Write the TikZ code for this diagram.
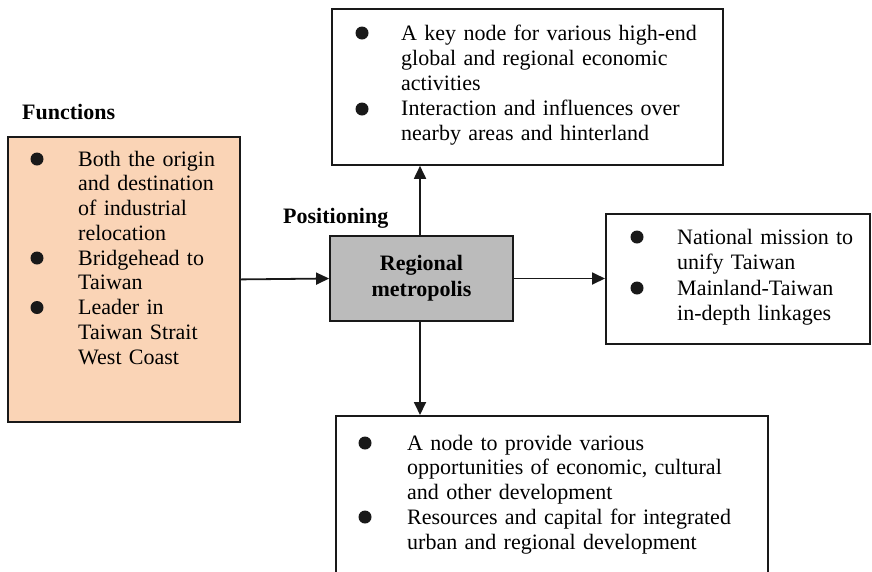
\documentclass[tikz,border=0pt]{standalone}
\usepackage{fontspec}
\setmainfont{Liberation Serif}
\usetikzlibrary{arrows.meta}
\definecolor{peach}{RGB}{250,212,182}
\definecolor{hubgrey}{RGB}{187,187,187}
\definecolor{ink}{RGB}{25,25,25}
\begin{document}
\begin{tikzpicture}[x=1pt,y=-1pt,
  box/.style={draw=ink, line width=1.8pt, inner sep=0pt, anchor=north west},
  itemtext/.style={anchor=base west, inner sep=0pt, text width=#1, align=left,
    font=\fontsize{22}{25}\selectfont},
  dot/.style={circle, fill=ink, inner sep=0pt, minimum size=13pt},
  arr/.style={draw=ink, line width=1.8pt, -{Triangle[length=13pt,width=12pt]}},
  head/.style={font=\fontsize{22}{25}\selectfont\bfseries, inner sep=0pt, anchor=base west}]
\useasboundingbox (0,0) rectangle (872,571);
\clip (0,0) rectangle (872,571);

% Functions panel
\node[head] (funlbl) at (22,119) {Functions};
\node[box, fill=peach, minimum width=232pt, minimum height=285pt] (fun) at (7,136) {};
\node[dot] (fb1) at (37,159) {};
\node[dot] (fb2) at (37,258) {};
\node[dot] (fb3) at (37,307.5) {};
\node[itemtext=160pt, font=\fontsize{22}{24.75}\selectfont] (funtxt) at (78,166)
  {Both the origin\\and destination\\of industrial\\relocation\\Bridgehead to\\Taiwan\\Leader in\\Taiwan Strait\\West Coast};

% central hub
\node[head] (poslbl) at (283,223) {Positioning};
\node[draw=ink, fill=hubgrey, line width=1.8pt, minimum width=183pt, minimum height=85pt,
  inner sep=0pt, align=center, font=\fontsize{22}{26}\selectfont\bfseries] (reg) at (421.5,278.5)
  {Regional\\metropolis};

% upper panel
\node[box, minimum width=391pt, minimum height=156pt] (top) at (331,8) {};
\node[dot] (tb1) at (362,33) {};
\node[dot] (tb2) at (362,109) {};
\node[itemtext=320pt] (toptxt) at (401,40)
  {A key node for various high-end\\global and regional economic\\activities\\Interaction and influences over\\nearby areas and hinterland};

% right panel
\node[box, minimum width=264pt, minimum height=130pt] (rt) at (605,213) {};
\node[dot] (rb1) at (637,237) {};
\node[dot] (rb2) at (637,288) {};
\node[itemtext=190pt, font=\fontsize{22}{25.5}\selectfont] (rttxt) at (677,244)
  {National mission to\\unify Taiwan\\Mainland-Taiwan\\in-depth linkages};

% lower panel
\node[box, minimum width=432pt, minimum height=175pt] (bot) at (335,415) {};
\node[dot] (bb1) at (365,443) {};
\node[dot] (bb2) at (365,517) {};
\node[itemtext=350pt, font=\fontsize{22}{24.75}\selectfont] (bottxt) at (407,450)
  {A node to provide various\\opportunities of economic, cultural\\and other development\\Resources and capital for integrated\\urban and regional development};

% connectors
\coordinate (axis) at (420,0);
\draw[arr] (fun.east) -- (reg.west);
\draw[arr] (reg.east) -- (reg.east -| rt.west);
\draw[arr] (reg.north -| axis) -- (top.south -| axis);
\draw[arr] (reg.south -| axis) -- (bot.north -| axis);
\end{tikzpicture}
\end{document}
